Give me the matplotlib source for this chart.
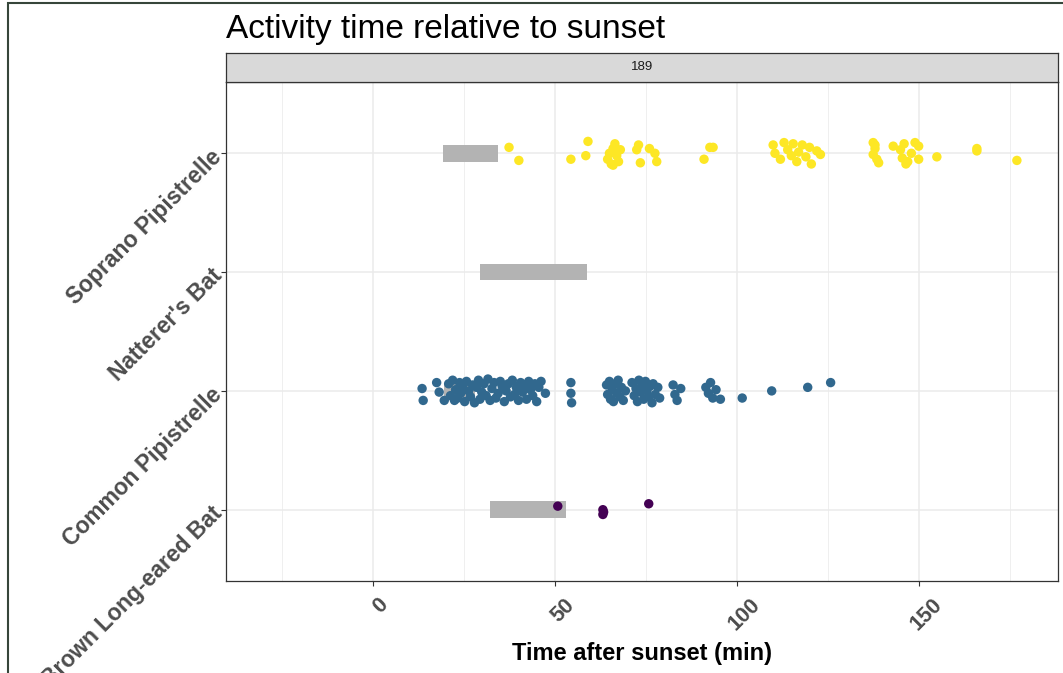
import matplotlib

matplotlib.use("Agg")
import matplotlib.pyplot as plt
import matplotlib.transforms as mtransforms
from matplotlib.patches import Rectangle

plt.rcParams["font.family"] = ["Liberation Sans", "DejaVu Sans"]

# species on the y axis, bottom to top
species = ["Brown Long-eared Bat", "Common Pipistrelle", "Natterer's Bat", "Soprano Pipistrelle"]
colours = ["#440154", "#31688E", "#35B779", "#FDE725"]

# emergence windows (min after sunset)
window_start = [32.3, 19.5, 29.4, 19.3]
window_end = [53.0, 28.0, 58.8, 34.3]

# detections: (minutes after sunset, vertical jitter)
brown_pts = [(50.8, 0.03), (63.2, 0.0), (63.4, -0.02), (63.2, -0.04), (75.8, 0.05)]

common_pts = [
    (13.5, 0.02), (13.8, -0.08), (17.5, 0.07), (18.2, -0.01), (19.6, -0.08),
    (20.8, 0.06), (21.3, -0.04), (21.9, 0.09), (22.4, -0.08), (22.7, 0.01),
    (23.3, -0.06), (23.8, 0.07), (24.1, -0.02), (24.6, 0.04), (25.2, -0.09),
    (25.7, 0.08), (26.3, 0.0), (26.8, -0.05), (27.4, 0.05), (27.9, -0.1),
    (28.5, 0.03), (29.0, 0.09), (29.4, -0.07), (29.9, -0.01), (30.5, 0.06),
    (31.1, -0.04), (31.6, 0.1), (32.2, -0.08), (32.7, 0.02), (33.3, 0.07),
    (33.8, -0.06), (34.4, -0.02), (35.0, 0.08), (35.5, 0.04), (36.1, -0.09),
    (36.6, 0.0), (37.2, 0.06), (37.8, -0.05), (38.3, 0.09), (38.9, -0.03),
    (39.4, 0.03), (40.0, -0.08), (40.6, 0.07), (41.1, -0.01), (41.7, 0.05),
    (42.2, -0.07), (42.8, 0.08), (43.3, 0.01), (43.9, -0.04), (44.5, 0.06),
    (45.0, -0.09), (45.6, 0.03), (46.2, 0.08), (47.4, -0.02),
    (54.4, 0.07), (54.4, -0.02), (54.6, -0.1),
    (64.2, 0.05), (64.5, -0.03), (65.0, 0.08), (65.3, -0.07), (65.8, 0.01),
    (66.1, -0.09), (66.6, 0.06), (67.0, -0.02), (67.4, 0.09), (67.9, -0.05),
    (68.3, 0.03), (68.8, -0.08), (69.4, 0.0),
    (71.2, 0.07), (71.8, -0.04), (72.3, 0.02), (72.7, -0.09), (73.1, 0.09),
    (73.6, -0.01), (74.0, 0.05), (74.4, -0.07), (74.9, 0.08), (75.3, 0.0),
    (75.8, -0.05), (76.2, 0.04), (76.7, -0.1), (77.0, 0.06), (77.6, -0.03),
    (78.3, 0.03), (78.8, -0.06),
    (82.5, 0.05), (83.0, -0.03), (83.6, -0.08), (84.6, 0.02),
    (91.5, 0.03), (92.2, -0.02), (92.8, 0.07), (93.4, -0.06), (94.3, 0.01), (95.5, -0.07),
    (101.5, -0.06), (109.6, 0.0), (119.5, 0.03), (125.8, 0.07),
]

soprano_pts = [
    (37.4, 0.05), (40.1, -0.06), (54.4, -0.05), (58.5, -0.02), (59.1, 0.1),
    (64.5, -0.05), (65.0, 0.0), (65.5, -0.09), (66.0, 0.04), (66.5, 0.08),
    (67.0, -0.02), (67.5, -0.07), (68.0, 0.03), (66.0, -0.1),
    (72.5, 0.03), (73.0, 0.07), (73.5, -0.08), (76.0, 0.04), (77.5, 0.0), (78.0, -0.07),
    (91.0, -0.05), (92.6, 0.05), (93.5, 0.05),
    (110.0, 0.07), (110.5, 0.0), (112.0, -0.05), (113.0, 0.09), (114.0, 0.03),
    (115.0, -0.02), (115.5, 0.08), (116.5, -0.07), (117.0, 0.01), (118.0, 0.07),
    (119.0, -0.03), (120.0, 0.05), (120.5, -0.09), (122.0, 0.02), (123.0, -0.01),
    (137.5, 0.09), (138.0, 0.04), (137.5, -0.01), (138.5, -0.05), (138.0, 0.07), (139.0, -0.08),
    (143.0, 0.06), (145.0, 0.03), (145.5, -0.04), (146.0, 0.08), (147.0, -0.07),
    (148.0, 0.0), (149.0, 0.09), (150.0, 0.06), (150.0, -0.05), (146.5, -0.09),
    (155.0, -0.03), (166.0, 0.04), (166.0, 0.02), (177.0, -0.06),
]

detections = {0: brown_pts, 1: common_pts, 3: soprano_pts}

x_ticks = [0, 50, 100, 150]
x_minor = [-25, 25, 75, 125, 175]

W, H = 1063, 673
fig = plt.figure(figsize=(W / 100, H / 100), dpi=100)

# outer frame of the exported image
fig.patches.append(Rectangle((8 / W, -0.05), 1.2, (H - 3.5) / H + 0.05, transform=fig.transFigure,
                             fill=False, edgecolor="#36463A", linewidth=1.5))

px_l, px_r, px_t, px_b = 226, 1058, 82, 581
ax = fig.add_axes([px_l / W, (H - px_b) / H, (px_r - px_l) / W, (px_b - px_t) / H])

ys = list(range(len(species)))
ax.barh(ys, [e - s for s, e in zip(window_start, window_end)], left=window_start,
        height=0.14, color="#B3B3B3", zorder=2)

for yi, pts in detections.items():
    xs = [p[0] for p in pts]
    yy = [yi + p[1] for p in pts]
    ax.scatter(xs, yy, s=46, color=colours[yi], edgecolors="none", zorder=3)

ax.set_xlim(-40.4, 188.3)
ax.set_ylim(-0.6, 3.6)
ax.set_xticks(x_ticks)
ax.set_xticks(x_minor, minor=True)
ax.set_yticks(ys)
ax.tick_params(axis="both", which="major", length=3.5, width=0.8, color="#333333")
ax.tick_params(axis="x", which="major", pad=4)
ax.tick_params(axis="y", which="major", pad=2)
ax.tick_params(axis="x", which="minor", length=0)
ax.set_xticklabels([str(v) for v in x_ticks], rotation=45, ha="center", va="top",
                   fontsize=15.5, fontweight="bold", color="#4D4D4D")
ax.set_yticklabels(species, rotation=45, ha="right", va="center", rotation_mode="anchor",
                   fontsize=16.5, fontweight="bold", color="#4D4D4D")
shift = mtransforms.ScaledTranslation(8 / 100, -3 / 100, fig.dpi_scale_trans)
for lab in ax.get_xticklabels():
    lab.set_transform(lab.get_transform() + shift)
ax.grid(True, which="major", color="#EBEBEB", linewidth=1.1, zorder=0)
ax.grid(True, which="minor", axis="x", color="#EBEBEB", linewidth=0.55, zorder=0)
ax.set_axisbelow(True)
for sp in ax.spines.values():
    sp.set_color("#333333")
    sp.set_linewidth(0.9)

ax.set_xlabel("Time after sunset (min)", fontsize=17, fontweight="bold", color="black", labelpad=5)

# facet strip
strip = fig.add_axes([px_l / W, (H - px_t) / H, (px_r - px_l) / W, 29 / H])
strip.set_facecolor("#D9D9D9")
strip.set_xticks([])
strip.set_yticks([])
for sp in strip.spines.values():
    sp.set_color("#333333")
    sp.set_linewidth(0.9)
strip.text(0.5, 0.5, "189", ha="center", va="center", fontsize=9.5, color="#1A1A1A",
           transform=strip.transAxes)

fig.text(px_l / W, (H - 38) / H, "Activity time relative to sunset", fontsize=24,
         color="black", ha="left", va="baseline")

fig.savefig("out.png", dpi=100)
plt.close()
